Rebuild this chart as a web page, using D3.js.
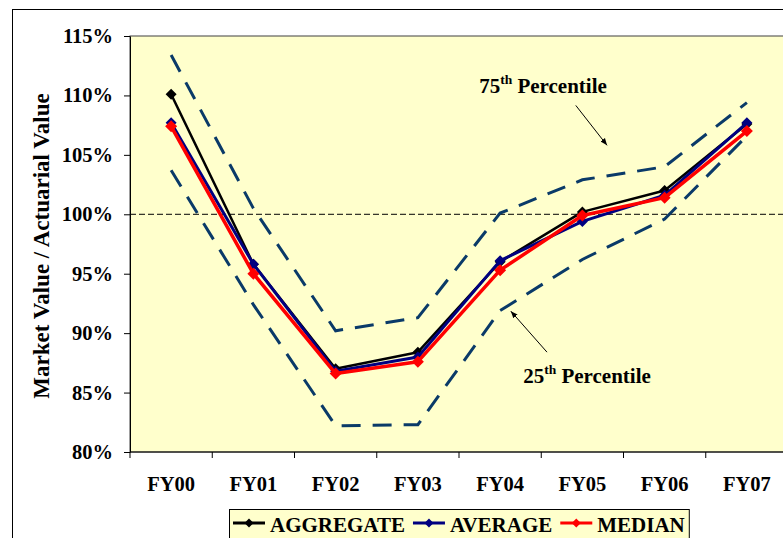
<!DOCTYPE html>
<html>
<head>
<meta charset="utf-8">
<script src="https://cdn.jsdelivr.net/npm/d3@7"></script>
<style>
  body { margin: 0; background: #fff; }
  text { font-family: "Liberation Serif", "Times New Roman", serif; font-weight: bold; }
</style>
</head>
<body>
<div id="chart"></div>
<script>
// chart data
const years = ["FY00", "FY01", "FY02", "FY03", "FY04", "FY05", "FY06", "FY07"];
const aggregate = [1.101, 0.958, 0.870, 0.884, 0.960, 1.002, 1.020, 1.076];
const average   = [1.077, 0.958, 0.868, 0.880, 0.961, 0.994, 1.016, 1.077];
const median    = [1.074, 0.950, 0.866, 0.876, 0.953, 0.999, 1.014, 1.070];
const pct75     = [1.134, 1.005, 0.902, 0.913, 1.001, 1.029, 1.040, 1.094];
const pct25     = [1.037, 0.924, 0.822, 0.823, 0.919, 0.962, 0.996, 1.066];
const yTicks    = [0.80, 0.85, 0.90, 0.95, 1.00, 1.05, 1.10, 1.15];

const width = 783;
const height = 538;
const plot = {left: 130, right: 788, top: 36, bottom: 452};
const serif = "'Liberation Serif', 'Times New Roman', serif";

const svg = d3.select("#chart")
  .append("svg")
  .attr("width", width)
  .attr("height", height)
  .attr("font-family", serif)
  .attr("font-weight", "bold");

// outer chart border
svg.append("rect")
  .attr("x", 12.5).attr("y", 9.5)
  .attr("width", 800).attr("height", 600)
  .attr("fill", "#fff")
  .attr("stroke", "#000");

// scales
const x = d3.scaleBand()
  .domain(years)
  .range([plot.left, plot.right])
  .padding(0);

const cx = d => x(d) + x.bandwidth() / 2;

// index scale, used for placing the notes
const xi = d3.scaleLinear()
  .domain([0, years.length - 1])
  .range([cx(years[0]), cx(years[years.length - 1])]);

const y = d3.scaleLinear()
  .domain([0.80, 1.15])
  .range([plot.bottom, plot.top]);

// plot area
svg.append("rect")
  .attr("x", plot.left).attr("y", plot.top)
  .attr("width", plot.right - plot.left)
  .attr("height", plot.bottom - plot.top)
  .attr("fill", "#FFFFCC")
  .attr("stroke", "#404040");

// 100% reference line
svg.append("line")
  .attr("x1", plot.left).attr("x2", plot.right)
  .attr("y1", y(1)).attr("y2", y(1))
  .attr("stroke", "#000")
  .attr("stroke-width", 1)
  .attr("stroke-dasharray", "6,3");

// y axis
svg.append("g")
  .attr("transform", `translate(${plot.left},0)`)
  .call(d3.axisLeft(y)
    .tickValues(yTicks)
    .tickFormat(d3.format(".0%"))
    .tickSize(6)
    .tickSizeOuter(0)
    .tickPadding(11))
  .attr("font-family", serif)
  .call(g => g.selectAll("text").attr("font-size", "20.5px").attr("fill", "#000"))
  .call(g => g.select(".domain").attr("stroke", "#000"));

// x axis labels at band centres
svg.append("g")
  .attr("transform", `translate(0,${plot.bottom})`)
  .call(d3.axisBottom(x).tickSize(0).tickPadding(24))
  .attr("font-family", serif)
  .call(g => g.select(".domain").remove())
  .call(g => g.selectAll("text").attr("font-size", "20.5px").attr("fill", "#000"));

// x tick marks at band edges
svg.append("g")
  .selectAll("line")
  .data(years.concat(["end"]))
  .enter()
  .append("line")
  .attr("x1", d => d === "end" ? plot.right : x(d))
  .attr("x2", d => d === "end" ? plot.right : x(d))
  .attr("y1", plot.bottom)
  .attr("y2", plot.bottom + 6)
  .attr("stroke", "#000");

svg.append("line")
  .attr("x1", plot.left).attr("x2", plot.right)
  .attr("y1", plot.bottom).attr("y2", plot.bottom)
  .attr("stroke", "#000");

// y axis title
svg.append("text")
  .attr("transform", `translate(49,${(plot.top + plot.bottom) / 2 + 2}) rotate(-90)`)
  .attr("text-anchor", "middle")
  .attr("font-size", "23px")
  .text("Market Value / Actuarial Value");

const line = d3.line()
  .x((d, i) => cx(years[i]))
  .y(d => y(d));

// percentile bands
[pct75, pct25].forEach(vals => {
  svg.append("path")
    .datum(vals)
    .attr("d", line)
    .attr("fill", "none")
    .attr("stroke", "#0A3A68")
    .attr("stroke-width", 3)
    .attr("stroke-dasharray", "19,12");
});

const diamond = r => `M0,${-r}L${r},0L0,${r}L${-r},0Z`;

const series = [
  {name: "AGGREGATE", values: aggregate, color: "#000000", w: 2.5, r: 5.5},
  {name: "AVERAGE", values: average, color: "#000080", w: 3, r: 5.5},
  {name: "MEDIAN", values: median, color: "#FF0000", w: 3.5, r: 6}
];

series.forEach(s => {
  svg.append("path")
    .datum(s.values)
    .attr("d", line)
    .attr("fill", "none")
    .attr("stroke", s.color)
    .attr("stroke-width", s.w)
    .attr("stroke-linejoin", "round");

  svg.append("g")
    .selectAll("path")
    .data(s.values)
    .enter()
    .append("path")
    .attr("transform", (d, i) => `translate(${cx(years[i])},${y(d)})`)
    .attr("d", diamond(s.r))
    .attr("fill", s.color);
});

// notes with arrows
const defs = svg.append("defs");
defs.append("marker")
  .attr("id", "arrow")
  .attr("viewBox", "0 0 10 10")
  .attr("refX", 10).attr("refY", 5)
  .attr("markerWidth", 7).attr("markerHeight", 7)
  .attr("orient", "auto")
  .append("path")
  .attr("d", "M0,1L10,5L0,9Z")
  .attr("fill", "#000");

const notes = [
  {num: "75", at: [3.745, 1.1017], from: [4.92, 1.0916], to: [5.30, 1.058]},
  {num: "25", at: [4.28, 0.858], from: [4.57, 0.884], to: [4.13, 0.9185]}
];

notes.forEach(n => {
  const t = svg.append("text")
    .attr("x", xi(n.at[0]))
    .attr("y", y(n.at[1]))
    .attr("font-size", "21px");
  t.append("tspan").text(n.num);
  t.append("tspan").attr("font-size", "13.5px").attr("dy", -9).text("th");
  t.append("tspan").attr("dy", 9).text(" Percentile");

  svg.append("line")
    .attr("x1", xi(n.from[0])).attr("y1", y(n.from[1]))
    .attr("x2", xi(n.to[0])).attr("y2", y(n.to[1]))
    .attr("stroke", "#000")
    .attr("stroke-width", 1)
    .attr("marker-end", "url(#arrow)");
});

// legend
const legend = svg.append("g");
const legendBox = legend.append("rect")
  .attr("x", 229.5).attr("y", 509.5)
  .attr("height", 60)
  .attr("fill", "#FFFFCC")
  .attr("stroke", "#000");

let lx = 233;
series.forEach(s => {
  const g = legend.append("g");
  g.append("line")
    .attr("x1", lx).attr("x2", lx + 32)
    .attr("y1", 523).attr("y2", 523)
    .attr("stroke", s.color)
    .attr("stroke-width", 3);
  g.append("path")
    .attr("transform", `translate(${lx + 16},523)`)
    .attr("d", diamond(4.5))
    .attr("fill", s.color);
  const t = g.append("text")
    .attr("x", lx + 37)
    .attr("y", 532)
    .attr("font-size", "21px")
    .text(s.name);
  lx = lx + 37 + t.node().getComputedTextLength() + 8;
});
legendBox.attr("width", lx - 229 - 4);
</script>
</body>
</html>
